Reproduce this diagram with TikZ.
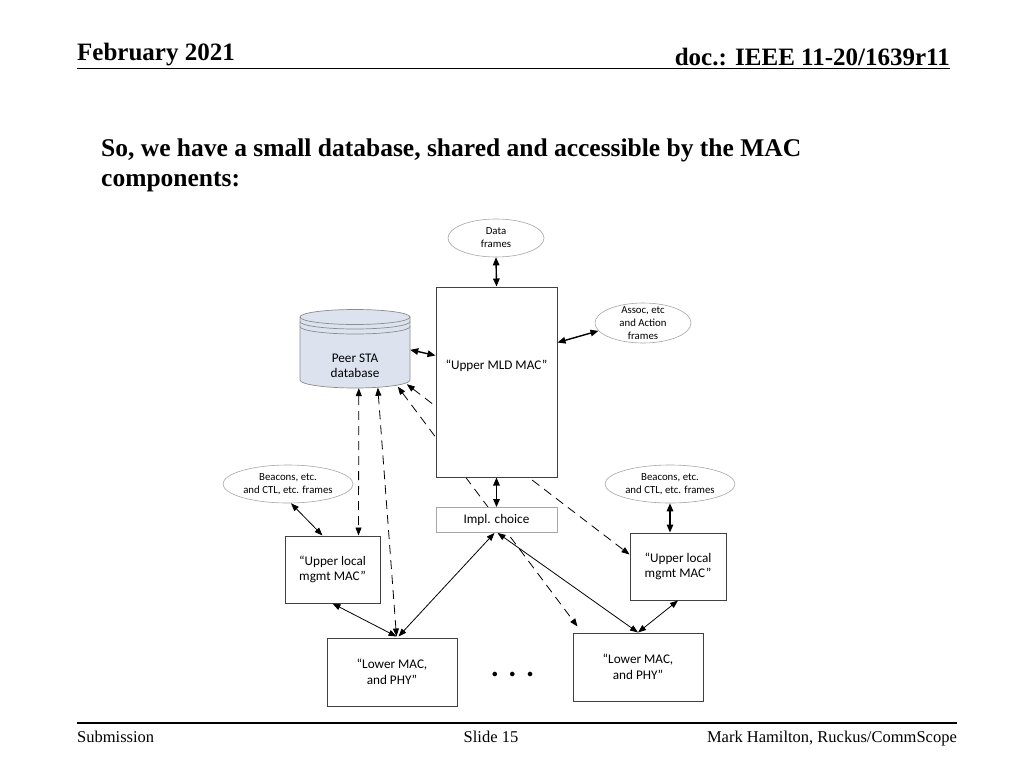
\documentclass[tikz,border=0pt]{standalone}
\usepackage{fontspec}
\setmainfont{Liberation Serif}
\newfontfamily\diafont{Carlito}
\usetikzlibrary{arrows.meta,shapes.geometric,backgrounds,calc}
\definecolor{dbfill}{HTML}{DCE3EF}
\definecolor{dbline}{HTML}{8C8C8C}
\definecolor{ellline}{HTML}{A6A6A6}
\definecolor{boxline}{HTML}{404040}
\begin{document}
\begin{tikzpicture}[x=1pt,y=-1pt,
  box/.style={draw=boxline, line width=1pt, fill=white, inner sep=0pt, rectangle,
              font=\diafont\fontsize{13.2}{15.5}\selectfont, align=center},
  lbl/.style={font=\diafont\fontsize{13.2}{15.5}\selectfont, align=center, inner sep=0pt},
  ell/.style={ellipse, draw=ellline, line width=0.6pt, fill=white, inner sep=0pt},
  small/.style={font=\diafont\fontsize{10.8}{13}\selectfont, align=center, inner sep=0pt},
  boldarrow/.style={<->, >={Triangle[length=8pt,width=6.5pt]}, line width=1.4pt},
  thinarrow/.style={<->, >={Triangle[length=8pt,width=6pt]}, line width=0.8pt},
  dasharrow/.style={<->, >={Triangle[length=8pt,width=6pt]}, line width=0.8pt, dash pattern=on 9pt off 6pt},
  hdr/.style={font=\bfseries\fontsize{25}{29}\selectfont, inner sep=0pt},
  ftr/.style={font=\fontsize{16.5}{19}\selectfont, inner sep=0pt}
]
\useasboundingbox (0,0) rectangle (1024,768);

% header
\node[hdr, anchor=base west] (date) at (77,60) {February 2021};
\node[hdr, anchor=base east] (docid) at (950,65) {doc.: IEEE 11-20/1639r11};
\draw[line width=1.8pt] (77,68.5) -- (950,68.5);

% title
\node[anchor=north west, align=left, inner sep=0pt,
      font=\bfseries\fontsize{25.5}{30}\selectfont] (title) at (101,139)
  {So, we have a small database, shared and accessible by the MAC\\components:};

% footer
\draw[line width=1.8pt] (77,723) -- (957,723);
\node[ftr, anchor=base west] (sub) at (77,742) {Submission};
\node[ftr, anchor=base] (slide) at (491,742) {Slide 15};
\node[ftr, anchor=base east] (author) at (957,742) {Mark Hamilton, Ruckus/CommScope};

% database cylinder
\path[fill=dbfill, draw=dbline, line width=0.7pt]
  (300,317) -- (300,380) arc[start angle=180, end angle=0, x radius=55, y radius=8]
  -- (410,317) arc[start angle=0, end angle=-180, x radius=55, y radius=7.5] -- cycle;
\draw[dbline, line width=0.7pt] (300,317) arc[start angle=180, end angle=0, x radius=55, y radius=7.5];
\draw[dbline, line width=0.7pt] (300,321.5) arc[start angle=180, end angle=0, x radius=55, y radius=7.5];
\draw[dbline, line width=0.7pt] (300,326.5) arc[start angle=180, end angle=0, x radius=55, y radius=7.5];
\node[minimum width=110pt, minimum height=78pt, inner sep=0pt] (db) at (355,349) {};
\node[lbl] (dbtext) at (355,366) {Peer STA\\database};

% boxes
\node[box, minimum width=121pt, minimum height=190pt] (mld) at (496.5,382) {};
\node[lbl] (mldtext) at (496.5,366) {“Upper MLD MAC”};
\node[box, draw=ellline, line width=0.8pt, minimum width=121pt, minimum height=25pt] (impl) at (496.5,520) {Impl. choice};
\node[box, minimum width=95pt, minimum height=67pt] (upL) at (332.5,569.5) {“Upper local\\mgmt MAC”};
\node[box, minimum width=130pt, minimum height=68pt] (lowL) at (392,672) {“Lower MAC,\\and PHY”};
\node[box, minimum width=96pt, minimum height=67pt] (upR) at (678,566.5) {“Upper local\\mgmt MAC”};
\node[box, minimum width=130pt, minimum height=68pt] (lowR) at (638,667) {“Lower MAC,\\and PHY”};

% ellipses
\node[ell, minimum width=96pt, minimum height=38pt] (data) at (496,238) {};
\node[small] (datatext) at (data.center) {Data\\frames};
\node[ell, minimum width=96pt, minimum height=40pt] (assoc) at (643,323) {};
\node[small] (assoctext) at (assoc.center) {Assoc, etc\\and Action\\frames};
\node[ell, minimum width=130pt, minimum height=38pt] (beaconsL) at (288,484) {};
\node[small] (beaconsLtext) at (beaconsL.center) {Beacons, etc.\\and CTL, etc. frames};
\node[ell, minimum width=130pt, minimum height=38pt] (beaconsR) at (670,484) {};
\node[small] (beaconsRtext) at (beaconsR.center) {Beacons, etc.\\and CTL, etc. frames};

% dots
\node[font=\diafont\fontsize{38}{38}\selectfont, inner sep=0pt, anchor=base] (dots) at (512.5,676.5) {.\hspace{8pt}.\hspace{8pt}.};

% dashed connectors (behind boxes)
\begin{scope}[on background layer]
\draw[dasharrow] ($(db.south west)+(59,0)$) -- ($(upL.north west)+(74,0)$);
\draw[dasharrow] ($(db.south west)+(78,-0.5)$) -- ($(lowL.north west)+(70,-1)$);
\draw[dasharrow] ($(db.south west)+(98,-1.5)$) -- ($(lowR.north west)+(5,-6)$);
\draw[dasharrow] ($(db.south west)+(107,-4)$) -- ($(upR.north west)+(0,22)$);
\end{scope}

% solid connectors
\draw[boldarrow] (data.south) -- (mld.north);
\draw[boldarrow] ($(db.north east)+(0,40)$) -- ($(mld.north west)+(0,69)$);
\draw[boldarrow] ($(mld.north east)+(0,56)$) -- (assoc.190);
\draw[boldarrow] (mld.south) -- (impl.north);
\draw[boldarrow] (beaconsR.south) -- (beaconsR.south |- upR.north);
\draw[thinarrow] ($(beaconsL.south)+(3,0)$) -- ($(upL.north west)+(38,0)$);
\draw[thinarrow] (upL.south) -- ($(lowL.north west)+(70,-1)$);
\draw[thinarrow] ($(impl.south)+(-2,0)$) -- ($(lowL.north west)+(72,-1)$);
\draw[thinarrow] ($(impl.south)+(1,0)$) -- (lowR.north);
\draw[thinarrow] (upR.south) -- (lowR.north);
\end{tikzpicture}
\end{document}
